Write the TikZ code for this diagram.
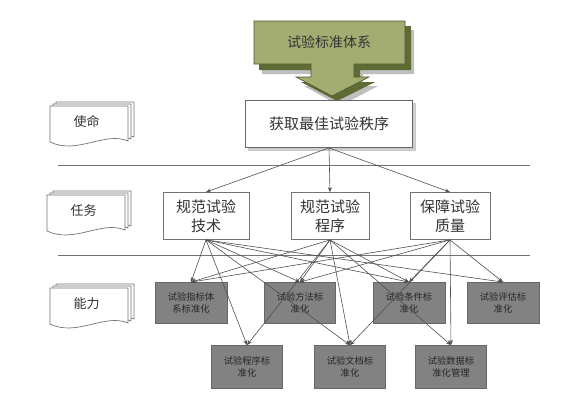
\documentclass[tikz,border=0pt]{standalone}
\usepackage{fontspec}
\setmainfont{Noto Sans CJK SC}
\usetikzlibrary{arrows.meta}
\definecolor{olivefront}{HTML}{A3AD72}
\definecolor{oliveside}{HTML}{5E6B34}
\definecolor{capgray}{HTML}{828282}
\definecolor{linegray}{HTML}{505050}
\tikzset{
  mainbox/.style={draw=gray!80!black, fill=white, line width=0.8pt, align=center, font=\fontsize{15}{19}\selectfont, text=black!80, inner sep=0pt},
  capbox/.style={draw=black!60, fill=capgray, line width=0.8pt, align=center, font=\fontsize{9.3}{12}\selectfont, text=black!85, inner sep=0pt, minimum width=71pt, minimum height=41pt},
  link/.style={draw=linegray, line width=0.6pt, -{Stealth[length=5pt,width=4pt]}},
  sepline/.style={draw=black!55, line width=0.8pt},
  docshape/.style={draw=black!55, fill=white, line width=0.7pt},
  doclabel/.style={font=\fontsize{13}{15}\selectfont, text=black!80}
}
\newcommand{\docpath}[4]{% x0 y0 w h
  (#1,#2) -- ({#1+#3},#2) -- ({#1+#3},{#2+#4-3})
  .. controls ({#1+0.7*#3},{#2+#4-13}) and ({#1+0.35*#3},{#2+#4+11}) .. (#1,{#2+#4-2}) -- cycle}
\newcommand{\docstack}[5]{% x0 y0 w h label
  \path[docshape] \docpath{#1+6}{#2-4}{#3}{#4};
  \path[docshape] \docpath{#1+3}{#2-2}{#3}{#4};
  \path[docshape] \docpath{#1}{#2}{#3}{#4};
  \node[doclabel] at ({#1+#3*0.47},{#2+#4*0.42}) {#5};
}
\begin{document}
\begin{tikzpicture}[x=1pt,y=-1pt]
\useasboundingbox (0,0) rectangle (587,416);
\fill[white] (0,0) rectangle (587,416);
% 3D arrow
\fill[black!25] (262,30) -- (414,30) -- (414,74) -- (363,74) -- (363,86) -- (378,86) -- (340,106) -- (304,86) -- (319,86) -- (319,74) -- (262,74) -- cycle;
\fill[oliveside] (259,26) -- (411,26) -- (411,70) -- (360,70) -- (360,82) -- (375,82) -- (337,101) -- (301,82) -- (316,82) -- (316,70) -- (259,70) -- cycle;
\path[fill=olivefront, draw=oliveside!80!black, line width=0.6pt]
  (254,21) -- (405,21) -- (405,64) -- (354,64) -- (354,77) -- (369,77) -- (332,96) -- (296,77) -- (311,77) -- (311,64) -- (254,64) -- cycle;
\node[font=\fontsize{14}{16}\selectfont, text=black!80] (std) at (329,42) {试验标准体系};
% mission
\fill[black!20] (248,103) rectangle (416,151);
\node[mainbox, minimum width=167pt, minimum height=47pt] (goal) at (329,124) {获取最佳试验秩序};
% separators
\coordinate (l1a) at (58,165); \coordinate (l1b) at (530,165);
\coordinate (l2a) at (58,255); \coordinate (l2b) at (530,255);
\draw[sepline] (l1a) -- (l1b);
\draw[sepline] (l2a) -- (l2b);
% doc labels
\docstack{50}{106}{78}{38}{使命}
\docstack{47}{195}{78}{38}{任务}
\docstack{50}{288}{78}{38}{能力}
% tasks
\node[mainbox, minimum width=86pt, minimum height=47pt, draw=black!55] (t1) at (206,216) {规范试验\\技术};
\node[mainbox, minimum width=78pt, minimum height=47pt, draw=black!55] (t2) at (330,216) {规范试验\\程序};
\node[mainbox, minimum width=80pt, minimum height=47pt, draw=black!55] (t3) at (450,216) {保障试验\\质量};
% capabilities
\node[capbox, minimum width=72pt] (b1) at (191,303) {试验指标体\\系标准化};
\node[capbox] (b2) at (300,303) {试验方法标\\准化};
\node[capbox, minimum width=72pt] (b3) at (409,303) {试验条件标\\准化};
\node[capbox, minimum width=72pt] (b4) at (503,303) {试验评估标\\准化};
\node[capbox, minimum height=43pt] (c1) at (247,367) {试验程序标\\准化};
\node[capbox, minimum height=43pt] (c2) at (350,367) {试验文档标\\准化};
\node[capbox, minimum height=43pt] (c3) at (451,367) {试验数据标\\准化管理};
% links
\draw[link] (goal.south) -- (t1.north);
\draw[link] (goal.south) -- (t2.north);
\draw[link] (goal.south) -- (t3.north);
\foreach \a/\b in {t1/b1,t1/b2,t1/b3,t1/b4,t1/c1,t1/c2,
                   t2/b1,t2/b2,t2/b3,t2/c1,t2/c2,t2/c3,
                   t3/b1,t3/b2,t3/b3,t3/b4,t3/c2,t3/c3}
  \draw[link] (\a.south) -- (\b.north);
\end{tikzpicture}
\end{document}
